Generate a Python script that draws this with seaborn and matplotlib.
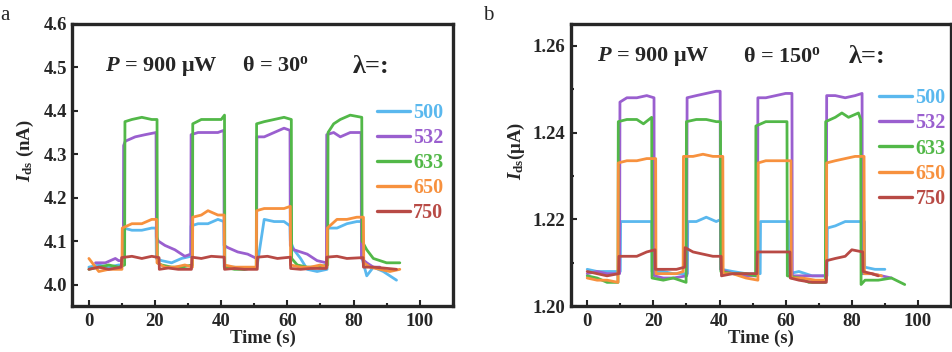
import numpy as np
import pandas as pd
import matplotlib.pyplot as plt
import seaborn as sns
from matplotlib.ticker import MultipleLocator

# 파장별 광전류 (on/off 응답)
waves = ['500', '532', '633', '650', '750']
colors = ['#5ab8ee', '#9a5fcf', '#52b848', '#f7913e', '#b84a45']

# (a) theta = 30
a500_t = [0, 3, 6, 9, 10.5, 10.6, 13, 16, 19, 20.3, 20.4, 22, 25, 28, 30.8, 30.9, 33, 36, 39, 40.8, 40.9, 44, 47,
          50.7, 50.8, 53, 56, 59, 60.8, 60.9, 62, 64, 66, 69, 72.0, 72.1, 75, 78, 81, 82.5, 82.6, 84, 86, 89, 93]
a500_i = [4.04, 4.045, 4.04, 4.045, 4.045, 4.13, 4.125, 4.125, 4.13, 4.13, 4.06, 4.055, 4.05, 4.06, 4.065, 4.135,
          4.14, 4.14, 4.15, 4.145, 4.04, 4.04, 4.035, 4.04, 4.04, 4.15, 4.145, 4.145, 4.135, 4.1, 4.08, 4.06, 4.035,
          4.03, 4.035, 4.13, 4.13, 4.14, 4.145, 4.145, 4.06, 4.02, 4.04, 4.03, 4.01]
a532_t = [2, 5, 8, 9, 10.4, 10.5, 11, 14, 17, 20.3, 20.4, 21, 23, 26, 29, 30.8, 30.9, 33, 36, 39, 40.8, 40.9, 42, 45,
          48, 50.7, 50.8, 53, 56, 59, 60.8, 60.9, 62, 64, 66, 69, 71.8, 71.9, 74, 76, 79, 82.3, 82.4, 84, 86, 88]
a532_i = [4.05, 4.05, 4.06, 4.055, 4.055, 4.32, 4.33, 4.34, 4.345, 4.35, 4.11, 4.1, 4.09, 4.08, 4.065, 4.07, 4.345,
          4.35, 4.35, 4.35, 4.355, 4.09, 4.085, 4.075, 4.07, 4.06, 4.34, 4.34, 4.35, 4.36, 4.355, 4.09, 4.08, 4.075,
          4.07, 4.055, 4.05, 4.345, 4.35, 4.34, 4.35, 4.35, 4.06, 4.05, 4.04, 4.04]
a633_t = [0, 3, 6, 9, 10.8, 10.9, 13, 16, 19, 20.6, 20.7, 22, 25, 28, 31.3, 31.4, 34, 37, 40, 41.0, 41.1, 44, 47,
          50.6, 50.7, 53, 56, 59, 61.2, 61.3, 63, 66, 69, 72.2, 72.3, 74, 76, 79, 82.5, 82.6, 84, 86, 90, 94]
a633_i = [4.035, 4.04, 4.045, 4.04, 4.045, 4.375, 4.38, 4.385, 4.38, 4.38, 4.05, 4.045, 4.04, 4.04, 4.045, 4.37,
          4.38, 4.38, 4.38, 4.39, 4.04, 4.035, 4.035, 4.04, 4.37, 4.375, 4.38, 4.385, 4.38, 4.06, 4.045, 4.04, 4.04,
          4.045, 4.35, 4.37, 4.38, 4.39, 4.385, 4.1, 4.08, 4.06, 4.05, 4.05]
a650_t = [0, 1, 3, 6, 9, 10.0, 10.1, 13, 16, 19, 20.5, 20.6, 23, 26, 29, 31.3, 31.4, 34, 36, 39, 40.9, 41.0, 44, 47,
          50.6, 50.7, 53, 56, 59, 60.9, 61.0, 64, 67, 70, 72.0, 72.1, 75, 78, 81, 83.0, 83.1, 85, 88, 91, 94]
a650_i = [4.06, 4.05, 4.03, 4.035, 4.035, 4.035, 4.13, 4.14, 4.14, 4.15, 4.15, 4.05, 4.04, 4.04, 4.045, 4.04, 4.155,
          4.16, 4.17, 4.16, 4.16, 4.045, 4.04, 4.04, 4.04, 4.17, 4.175, 4.175, 4.175, 4.18, 4.045, 4.04, 4.04, 4.045,
          4.04, 4.13, 4.15, 4.15, 4.155, 4.155, 4.05, 4.04, 4.035, 4.03, 4.035]
a750_t = [0, 3, 6, 9.8, 9.9, 13, 16, 19, 21.2, 21.3, 24, 27, 31.0, 31.1, 34, 37, 40.9, 41.0, 44, 47, 50.9, 51.0, 54,
          57, 60.9, 61.0, 64, 67, 71.8, 71.9, 75, 78, 82.9, 83.0, 86, 89, 93]
a750_i = [4.035, 4.04, 4.035, 4.04, 4.062, 4.065, 4.06, 4.065, 4.062, 4.035, 4.038, 4.035, 4.035, 4.063, 4.06, 4.065,
          4.063, 4.035, 4.037, 4.035, 4.035, 4.063, 4.065, 4.06, 4.063, 4.037, 4.035, 4.037, 4.037, 4.063, 4.065,
          4.06, 4.062, 4.04, 4.04, 4.038, 4.035]

# (b) theta = 150
b500_t = [0, 3, 6, 9, 10.0, 10.1, 13, 16, 19.5, 19.6, 23, 26, 30.3, 30.4, 33, 36, 39, 40.5, 40.6, 44, 48, 52.3,
          52.4, 55, 58, 61.0, 61.1, 64, 68, 72.5, 72.6, 75, 78, 81, 83.8, 83.9, 87, 90]
b500_i = [1.2085, 1.208, 1.208, 1.208, 1.208, 1.2195, 1.2195, 1.2195, 1.2195, 1.208, 1.208, 1.2075, 1.2075, 1.2195,
          1.2195, 1.2205, 1.2195, 1.22, 1.2085, 1.208, 1.2075, 1.2075, 1.2195, 1.2195, 1.2195, 1.2195, 1.2075, 1.208,
          1.207, 1.207, 1.218, 1.2185, 1.2195, 1.2195, 1.2195, 1.209, 1.2085, 1.2085]
b532_t = [0, 3, 6, 9.8, 9.9, 12, 15, 18, 20.2, 20.3, 23, 26, 30.1, 30.2, 33, 36, 39, 40.2, 40.3, 44, 48, 51.5, 51.6,
          54, 57, 60, 61.9, 62.0, 65, 68, 72.3, 72.4, 75, 78, 81, 83.1, 83.2, 86, 89, 92]
b532_i = [1.2075, 1.208, 1.2075, 1.2075, 1.247, 1.248, 1.248, 1.2485, 1.248, 1.207, 1.2065, 1.2065, 1.207, 1.248,
          1.2485, 1.249, 1.2495, 1.2495, 1.2085, 1.2075, 1.207, 1.207, 1.248, 1.248, 1.2485, 1.249, 1.249, 1.207,
          1.207, 1.207, 1.207, 1.2485, 1.2485, 1.248, 1.2485, 1.249, 1.2075, 1.2075, 1.207, 1.2065]
b633_t = [0, 3, 6, 9.3, 9.4, 12, 15, 17, 19.5, 19.6, 23, 26, 29.9, 30.0, 33, 36, 39, 40.3, 40.4, 44, 48, 50.9, 51.0,
          54, 57, 60.4, 60.5, 64, 67, 72.0, 72.1, 75, 77, 79, 82, 82.7, 82.8, 84, 88, 92, 96]
b633_i = [1.207, 1.2065, 1.2055, 1.2055, 1.2425, 1.243, 1.243, 1.242, 1.2435, 1.2065, 1.206, 1.2065, 1.2055, 1.2425,
          1.243, 1.243, 1.2425, 1.2425, 1.208, 1.2075, 1.2075, 1.207, 1.2415, 1.2425, 1.2425, 1.2425, 1.207, 1.2065,
          1.2055, 1.2055, 1.2425, 1.2435, 1.2445, 1.2435, 1.2445, 1.243, 1.205, 1.206, 1.206, 1.2065, 1.205]
b650_t = [0, 3, 6, 9.3, 9.4, 12, 15, 18, 20.7, 20.8, 24, 27, 29.0, 29.1, 32, 35, 38, 41.0, 41.1, 44, 48, 51.6, 51.7,
          54, 57, 61.6, 61.7, 65, 69, 72.3, 72.4, 75, 78, 81, 83.7, 83.8, 86, 89]
b650_i = [1.2065, 1.206, 1.206, 1.2055, 1.233, 1.2335, 1.2335, 1.234, 1.234, 1.2075, 1.2075, 1.2075, 1.208, 1.2345,
          1.2345, 1.235, 1.2345, 1.2345, 1.2075, 1.2075, 1.2065, 1.206, 1.233, 1.2335, 1.2335, 1.2335, 1.2065,
          1.2065, 1.206, 1.206, 1.233, 1.2335, 1.234, 1.2345, 1.2345, 1.2075, 1.2075, 1.207]
b750_t = [0, 3, 6, 9.5, 9.6, 12, 15, 18, 20.5, 20.6, 24, 27, 29.5, 29.6, 32, 35, 38, 40.5, 40.6, 44, 48, 51.3, 51.4,
          54, 57, 61.3, 61.4, 64, 68, 72.3, 72.4, 75, 78, 80, 83.3, 83.4, 86, 88]
b750_i = [1.208, 1.2075, 1.207, 1.2075, 1.2115, 1.2115, 1.2115, 1.2125, 1.213, 1.2085, 1.2085, 1.2085, 1.209,
          1.2135, 1.2125, 1.212, 1.2115, 1.2115, 1.207, 1.2075, 1.2075, 1.2075, 1.2125, 1.2125, 1.2125, 1.2125,
          1.2065, 1.206, 1.2055, 1.2055, 1.2105, 1.211, 1.2115, 1.213, 1.2125, 1.208, 1.2075, 1.207]

sns.set_style('ticks')
plt.rcParams['font.family'] = ['Liberation Serif', 'DejaVu Serif']
plt.rcParams['font.weight'] = 'bold'
plt.rcParams['mathtext.fontset'] = 'custom'
plt.rcParams['mathtext.rm'] = 'Liberation Serif:bold'
plt.rcParams['mathtext.it'] = 'Liberation Serif:italic:bold'
plt.rcParams['mathtext.bf'] = 'Liberation Serif:bold'


def panel(ax, series, ylim, ymajor, yminor, ylabel, title, tpos, letter, ylx, ltx):
    for (t, i), w, c in zip(series, waves, colors):
        df = pd.DataFrame({'t': t, 'I': i})
        sns.lineplot(data=df, x='t', y='I', ax=ax, color=c, lw=2.0, label=w, estimator=None, sort=False)
    ax.set_xlim(-5, 110)
    ax.set_ylim(*ylim)
    ax.xaxis.set_major_locator(MultipleLocator(20))
    ax.xaxis.set_minor_locator(MultipleLocator(10))
    ax.yaxis.set_major_locator(MultipleLocator(ymajor))
    if yminor:
        ax.yaxis.set_minor_locator(MultipleLocator(yminor))
    ax.tick_params(which='both', direction='in', width=1.5, labelsize=13.5)
    ax.tick_params(which='major', length=4)
    ax.tick_params(which='minor', length=2)
    ax.tick_params(axis='x', pad=5)
    ax.tick_params(axis='y', pad=4)
    for s in ax.spines.values():
        s.set_linewidth(2.4)
    ax.set_xlabel('Time (s)', fontsize=13.5, fontweight='bold', labelpad=0)
    ax.set_ylabel(ylabel, fontsize=13.5, fontweight='bold')
    ax.yaxis.set_label_coords(ylx, 0.55)
    for lab in ax.get_xticklabels() + ax.get_yticklabels():
        lab.set_fontweight('bold')
    p, th, lam = title
    ax.text(tpos[0], tpos[3], p, transform=ax.transAxes, fontsize=16, va='center')
    ax.text(tpos[1], tpos[3], th, transform=ax.transAxes, fontsize=16, va='center')
    ax.text(tpos[2], tpos[3], lam, transform=ax.transAxes, fontsize=19, va='center', fontweight='bold')
    leg = ax.legend(loc='upper left', bbox_to_anchor=(tpos[4], tpos[5]), frameon=False, fontsize=14.5,
                    handlelength=1.65, handletextpad=0.15, labelspacing=0.25, borderaxespad=0)
    for txt, c in zip(leg.get_texts(), colors):
        txt.set_color(c)
    for h in leg.get_lines():
        h.set_linewidth(2.4)
    ax.text(ltx, 1.03, letter, transform=ax.transAxes, fontsize=15, fontweight='normal', va='center')


fig, (ax1, ax2) = plt.subplots(1, 2, figsize=(9.52, 3.52), dpi=100)
fig.subplots_adjust(left=0.076, right=0.999, bottom=0.13, top=0.932, wspace=0.31)

sa = [(a500_t, a500_i), (a532_t, a532_i), (a633_t, a633_i), (a650_t, a650_i), (a750_t, a750_i)]
sb = [(b500_t, b500_i), (b532_t, b532_i), (b633_t, b633_i), (b650_t, b650_i), (b750_t, b750_i)]

panel(ax1, sa, (3.95, 4.6), 0.1, None, r'$I_{\rm ds}$ (nA)',
      (r'$P$ = 900 μW', r'θ = 30$^{\rm o}$', 'λ=:'), (0.086, 0.445, 0.736, 0.85, 0.78, 0.75), 'a', -0.096, -0.19)
panel(ax2, sb, (1.20, 1.265), 0.02, 0.01, r'$I_{\rm ds}$(μA)',
      (r'$P$ = 900 μW', r'θ = 150$^{\rm o}$', 'λ=:'), (0.068, 0.453, 0.73, 0.883, 0.79, 0.8), 'b', -0.114, -0.23)
ax1.set_yticklabels([f'{v:.1f}' for v in ax1.get_yticks()])
ax2.set_yticklabels([f'{v:.2f}' for v in ax2.get_yticks()])

fig.savefig('out.png', dpi=100)
